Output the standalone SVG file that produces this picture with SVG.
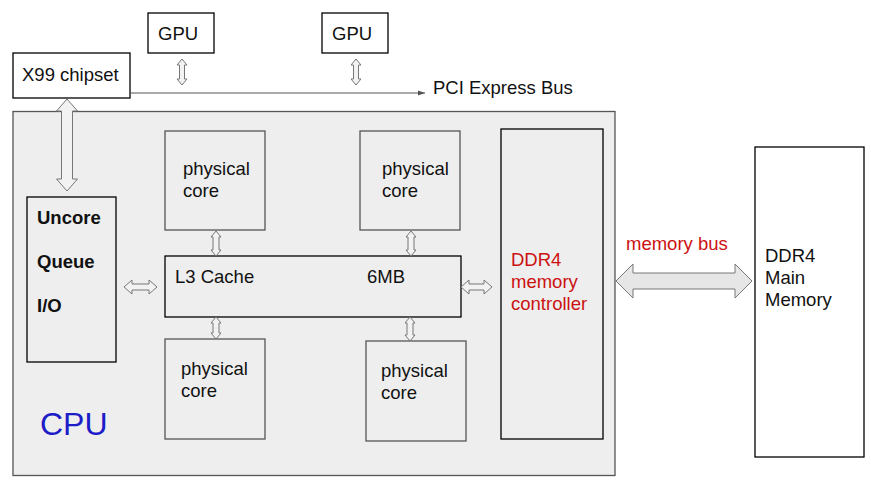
<svg xmlns="http://www.w3.org/2000/svg" width="871" height="490" viewBox="0 0 871 490">
<style>
text{font-family:"Liberation Sans",Arial,sans-serif;font-size:18.5px;fill:#111}
.box{fill:#fff;stroke:#000;stroke-width:1.3}
.gbox{fill:#eeeeee;stroke:#555;stroke-width:1.3}
.inner{fill:#eeeeee;stroke:#000;stroke-width:1.3}
.arr{fill:#f2f2f2;stroke:#777;stroke-width:1}
.red{fill:#cc1111}
.bold{font-weight:bold}
</style>
<defs>
<marker id="ah" markerWidth="8" markerHeight="6" refX="7" refY="3" orient="auto" markerUnits="userSpaceOnUse">
<path d="M0,0.5 L7,3 L0,5.5 Z" fill="#555"/>
</marker>
</defs>
<rect width="871" height="490" fill="#fff"/>
<g id="cpu">
<rect class="gbox" x="13" y="111.5" width="602" height="364"/>
<text x="40" y="435" style="font-size:32px;fill:#1c1cc8">CPU</text>
</g>
<g id="x99">
<rect class="box" x="13" y="53" width="117" height="45"/>
<text x="22" y="81">X99 chipset</text>
</g>
<g id="gpu1">
<rect class="box" x="148" y="13" width="66" height="40"/>
<text x="158" y="40">GPU</text>
</g>
<g id="gpu2">
<rect class="box" x="322" y="13" width="66" height="40"/>
<text x="332" y="40">GPU</text>
</g>
<g id="pci-label">
<text x="433" y="94">PCI Express Bus</text>
</g>
<g id="uncore">
<rect class="inner" x="27" y="197" width="89" height="165"/>
<text class="bold" x="37" y="224">Uncore</text>
<text class="bold" x="37" y="268">Queue</text>
<text class="bold" x="37" y="312">I/O</text>
</g>
<g id="core-tl">
<rect class="gbox" x="165" y="131" width="100" height="99"/>
<text x="183" y="175">physical</text>
<text x="183" y="197">core</text>
</g>
<g id="core-tr">
<rect class="gbox" x="360" y="131" width="100" height="99"/>
<text x="382" y="175">physical</text>
<text x="382" y="197">core</text>
</g>
<g id="core-bl">
<rect class="gbox" x="165" y="339" width="100" height="100"/>
<text x="181" y="375">physical</text>
<text x="181" y="397">core</text>
</g>
<g id="core-br">
<rect class="gbox" x="366" y="341" width="100" height="100"/>
<text x="381" y="377">physical</text>
<text x="381" y="399">core</text>
</g>
<g id="l3">
<rect class="inner" x="165" y="256" width="296" height="61"/>
<text x="175" y="283">L3 Cache</text>
<text x="367" y="283">6MB</text>
</g>
<g id="memctrl">
<rect class="inner" x="501" y="129" width="102" height="310"/>
<text class="red" x="511" y="266">DDR4</text>
<text class="red" x="511" y="288">memory</text>
<text class="red" x="511" y="310">controller</text>
</g>
<g id="mainmem">
<rect class="box" x="755" y="147" width="109" height="310"/>
<text x="765" y="262">DDR4</text>
<text x="765" y="284">Main</text>
<text x="765" y="306">Memory</text>
</g>
<g id="membus-label">
<text class="red" x="626" y="250">memory bus</text>
</g>
<g id="connectors">
<line x1="130" y1="93" x2="425" y2="93" stroke="#555" stroke-width="1" marker-end="url(#ah)"/>
<path class="arr" d="M182,59 L187,65 L184.5,65 L184.5,79 L187,79 L182,85 L177,79 L179.5,79 L179.5,65 L177,65 Z"/>
<path class="arr" d="M356,59 L361,65 L358.5,65 L358.5,79 L361,79 L356,85 L351,79 L353.5,79 L353.5,65 L351,65 Z"/>
<path class="arr" d="M67,99 L77.5,111 L72.5,111 L72.5,179 L77.5,179 L67,191 L56.5,179 L61.5,179 L61.5,111 L56.5,111 Z"/>
<path class="arr" d="M216,231 L221,237 L219,237 L219,250 L221,250 L216,256 L211,250 L213,250 L213,237 L211,237 Z"/>
<path class="arr" d="M411,231 L416,237 L414,237 L414,250 L416,250 L411,256 L406,250 L408,250 L408,237 L406,237 Z"/>
<path class="arr" d="M216,317 L221,323 L219,323 L219,333 L221,333 L216,339 L211,333 L213,333 L213,323 L211,323 Z"/>
<path class="arr" d="M410,317 L415,323 L413,323 L413,335 L415,335 L410,341 L405,335 L407,335 L407,323 L405,323 Z"/>
<path class="arr" d="M124,287 L132,280 L132,284 L149,284 L149,280 L157,287 L149,294 L149,290 L132,290 L132,294 Z"/>
<path class="arr" d="M461,287 L469,280 L469,284 L484,284 L484,280 L492,287 L484,294 L484,290 L469,290 L469,294 Z"/>
<path d="M616,281 L633,264 L633,273 L735,273 L735,264 L752,281 L735,298 L735,289 L633,289 L633,298 Z" fill="#e6e6e6" stroke="#777" stroke-width="1"/>
</g>
</svg>
